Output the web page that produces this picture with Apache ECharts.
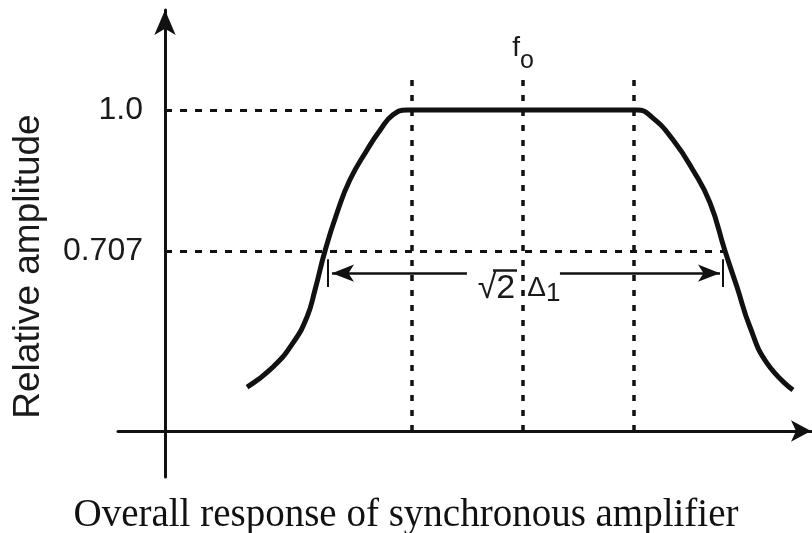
<!DOCTYPE html>
<html>
<head>
<meta charset="utf-8">
<style>html,body{margin:0;padding:0;background:#fff}#c{width:812px;height:533px}</style>
<script src="https://cdn.jsdelivr.net/npm/echarts@6/dist/echarts.min.js"></script>
</head>
<body>
<div id="c"></div>
<script>
// ---- data (frequency in units of the guide spacing, f0 = 0) ----
const curveX = [-2.486, -2.252, -2.072, -1.946, -1.874, -1.784, -1.676, -1.559, -1.405, -1.288, -1.171, -1.045,
                1.027, 1.171, 1.351, 1.532, 1.685, 1.820, 1.928, 2.045, 2.198, 2.432];
const curveY = [0.424, 0.466, 0.516, 0.570, 0.626, 0.707, 0.786, 0.855, 0.917, 0.958, 0.990, 1.000,
                1.000, 0.983, 0.938, 0.875, 0.807, 0.707, 0.632, 0.549, 0.474, 0.418];
const levelValues = [1.0, 0.707];
const levelLabels = ['1.0', '0.707'];
const levelEndX = [-1.225, 1.82];
const axisOriginX = -3.225;
const guideX = [-1, 0, 1];
const guideTop = 1.0665;
const baseY = 0.333;
const spanY = 0.661;
const spanTipX = [-1.721, 1.775];
const spanTickX = [-1.757, 1.802];
const spanGapX = [-0.505, 0.333];
const spanTickY = [0.632, 0.69];
const spanLabelX = -0.036;
const radicalBarX = [-0.27, -0.054];
const radicalBarY = 0.6675;
const xRange = [-3.6486, 2.5946];
const yRange = [0.23737, 1.2078];
const titleText = 'Overall response of synchronous amplifier';
const yName = 'Relative amplitude';

const INK = '#111';
const dashH = {color: INK, width: 3, type: [7, 8]};
const dashV = {color: INK, width: 3.5, type: [6, 9]};

const markLines = [];
levelValues.forEach((v, i) => {
  markLines.push([{coord: [axisOriginX, v], lineStyle: dashH}, {coord: [levelEndX[i], v]}]);
});
guideX.forEach((x) => {
  const end = {coord: [x, guideTop]};
  if (x === 0) {
    end.label = {
      show: true, position: 'end', distance: 4,
      formatter: '{f|f}{o|o}',
      rich: {
        f: {fontFamily: 'Liberation Sans', fontSize: 28, color: '#1a1a1a'},
        o: {fontFamily: 'Liberation Sans', fontSize: 25, color: '#1a1a1a', padding: [26, 0, 0, 0]}
      }
    };
  }
  markLines.push([{coord: [x, baseY], lineStyle: dashV}, end]);
});
// double-headed span arrow, split around the label
const arrowStyle = {color: INK, width: 2.5, type: 'solid'};
markLines.push([{coord: [spanGapX[0], spanY], lineStyle: arrowStyle},
                {coord: [spanTipX[0], spanY], symbol: 'arrow', symbolSize: [13, 22]}]);
markLines.push([{coord: [spanGapX[1], spanY], lineStyle: arrowStyle},
                {coord: [spanTipX[1], spanY], symbol: 'arrow', symbolSize: [13, 22]}]);
spanTickX.forEach((x) => {
  markLines.push([{coord: [x, spanTickY[0]], lineStyle: {color: INK, width: 2, type: 'solid'}}, {coord: [x, spanTickY[1]]}]);
});
// vinculum of the square root
markLines.push([{coord: [radicalBarX[0], radicalBarY], lineStyle: {color: '#1a1a1a', width: 2.5, type: 'solid'}},
                {coord: [radicalBarX[1], radicalBarY]}]);

const chart = echarts.init(document.getElementById('c'), null, {renderer: 'canvas'});
chart.setOption({
  animation: false,
  backgroundColor: '#fff',
  title: {
    text: titleText, left: 'center', top: 491,
    textStyle: {fontFamily: 'Liberation Serif', fontSize: 39, fontWeight: 'normal', color: '#111'}
  },
  grid: {left: 118, right: 1, top: 10, bottom: 56, containLabel: false},
  xAxis: {
    type: 'value', min: xRange[0], max: xRange[1], position: 'bottom', offset: -46,
    axisLine: {show: true, onZero: false, symbol: ['none', 'arrow'], symbolSize: [16, 20],
               lineStyle: {color: INK, width: 3}},
    axisTick: {show: false}, axisLabel: {show: false}, splitLine: {show: false}
  },
  yAxis: {
    type: 'value', min: yRange[0], max: yRange[1], position: 'left', offset: -47,
    name: yName, nameLocation: 'middle', nameRotate: 90, nameGap: 118,
    nameTextStyle: {fontFamily: 'Liberation Sans', fontSize: 37, color: '#1a1a1a', padding: [0, 46, 0, 0]},
    axisLine: {show: true, onZero: false, symbol: ['none', 'arrow'], symbolSize: [16, 25],
               lineStyle: {color: INK, width: 3}},
    axisTick: {show: false}, splitLine: {show: false},
    axisLabel: {
      show: true, customValues: levelValues, margin: 22,
      fontFamily: 'Liberation Sans', fontSize: 32, color: '#1a1a1a',
      formatter: (v) => levelLabels[levelValues.indexOf(v)] || ''
    }
  },
  series: [{
    type: 'line',
    data: curveX.map((x, i) => [x, curveY[i]]),
    smooth: 0.5,
    showSymbol: false, silent: true,
    lineStyle: {color: INK, width: 5},
    z: 5,
    markLine: {
      silent: true, symbol: ['none', 'none'], label: {show: false},
      emphasis: {disabled: true},
      data: markLines
    },
    markPoint: {
      silent: true, symbol: 'circle', symbolSize: 0,
      itemStyle: {color: 'rgba(0,0,0,0)'},
      label: {
        show: true, position: 'inside', offset: [0, 15],
        formatter: '{a|√2}{b|Δ}{c|1}',
        rich: {
          a: {fontFamily: 'Liberation Sans', fontSize: 34, color: '#1a1a1a'},
          b: {fontFamily: 'Liberation Sans', fontSize: 28, color: '#1a1a1a', padding: [0, 0, 0, 12]},
          c: {fontFamily: 'Liberation Sans', fontSize: 26, color: '#1a1a1a', padding: [12, 0, 0, 0]}
        }
      },
      data: [{coord: [spanLabelX, spanY]}]
    }
  }]
});
</script>
</body>
</html>
